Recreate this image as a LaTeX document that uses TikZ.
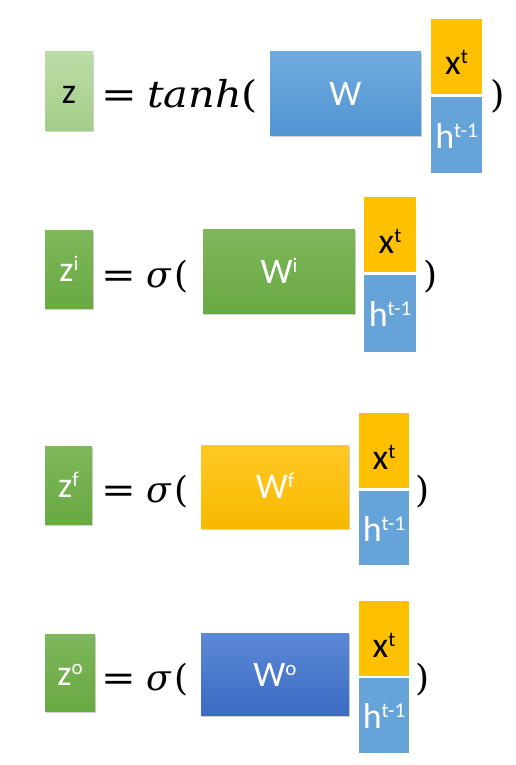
\documentclass[tikz,border=0pt]{standalone}
\usepackage{fontspec}
\newfontfamily\carl{Carlito}
\newfontfamily\mf{DejaVu Serif}
\usetikzlibrary{shadows}
\definecolor{zlightT}{HTML}{BBDDA6}
\definecolor{zlightB}{HTML}{A4CD89}
\definecolor{grT}{HTML}{7DB75A}
\definecolor{grB}{HTML}{69A942}
\definecolor{goldT}{HTML}{FFC824}
\definecolor{goldB}{HTML}{F7B900}
\definecolor{blT}{HTML}{70ABE0}
\definecolor{blB}{HTML}{5294D2}
\definecolor{boT}{HTML}{5C89D6}
\definecolor{boB}{HTML}{3B6BC3}
\definecolor{xcol}{HTML}{FFC000}
\definecolor{hcol}{HTML}{66A3D8}
\newcommand{\myup}[1]{\raisebox{11pt}{\fontsize{21}{21}\selectfont #1}}
\newcommand{\eqs}{\scalebox{1.15}[1]{=}}
\tikzset{
  box/.style={rectangle, inner sep=0pt, font=\carl\fontsize{36}{36}\selectfont},
  shad/.style={drop shadow={shadow xshift=0.6pt, shadow yshift=-2pt, opacity=0.25, fill=black!70}},
  zbox/.style={box, shad, text height=25pt, text depth=0pt},
  wbox/.style={box, shad, text height=24pt, text depth=0pt, text=white},
  xbox/.style={box, fill=xcol, text height=37pt, text depth=0pt, text=black},
  hbox/.style={box, fill=hcol, text height=26pt, text depth=0pt, text=white},
  mth/.style={inner sep=0pt, anchor=base west, font=\mf\fontsize{37}{40}\selectfont},
  mths/.style={inner sep=0pt, anchor=base west, font=\mf\fontsize{36}{40}\selectfont},
}
\begin{document}
\begin{tikzpicture}[x=1pt,y=-1pt]
\useasboundingbox[fill=white] (0,0) rectangle (515,765);
% Row 1
\node[zbox, top color=zlightT, bottom color=zlightB, minimum width=48pt, minimum height=78pt, text=black] (z1) at (69,91) {z};
\node[mth] (eq1) at (101,107) {\eqs};
\node[mth] (f1) at (147,107) {\scalebox{1.12}[1]{{\itshape tanh}(}};
\node[wbox, top color=blT, bottom color=blB, minimum width=151pt, minimum height=83pt] (w1) at (345.5,93.5) {W};
\node[xbox, minimum width=51pt, minimum height=75pt] (x1) at (456.5,56.5) {x\myup{t}};
\node[hbox, minimum width=51pt, minimum height=76pt] (h1) at (456.5,135) {h\myup{t-1}};
\node[mth] (p1) at (490,107) {)};
% Row 2
\node[zbox, top color=grT, bottom color=grB, minimum width=48pt, minimum height=78pt, text=white] (z2) at (69,269) {z\myup{i}};
\node[mths] (eq2) at (101,287) {\eqs};
\node[mths] (f2) at (146,287) {{\itshape σ}\hspace{4pt}(};
\node[wbox, top color=grT, bottom color=grB, minimum width=152pt, minimum height=84pt] (w2) at (279,271) {W\myup{i}};
\node[xbox, minimum width=52pt, minimum height=75pt] (x2) at (390,234.5) {x\myup{t}};
\node[hbox, minimum width=52pt, minimum height=77pt] (h2) at (390,313.5) {h\myup{t-1}};
\node[mths] (p2) at (423,287) {)};
% Row 3
\node[zbox, top color=grT, bottom color=grB, minimum width=47pt, minimum height=78pt, text=white] (z3) at (68.5,485) {z\myup{f}};
\node[mths] (eq3) at (101,502) {\eqs};
\node[mths] (f3) at (146,502) {{\itshape σ}\hspace{4pt}(};
\node[wbox, top color=goldT, bottom color=goldB, minimum width=148pt, minimum height=83pt] (w3) at (275,486.5) {W\myup{f}};
\node[xbox, minimum width=50pt, minimum height=75pt] (x3) at (384,450.5) {x\myup{t}};
\node[hbox, minimum width=50pt, minimum height=74pt] (h3) at (384,528) {h\myup{t-1}};
\node[mths] (p3) at (415,502) {)};
% Row 4
\node[zbox, top color=grT, bottom color=grB, minimum width=50pt, minimum height=77pt, text=white] (z4) at (70,672.5) {z\myup{o}};
\node[mths] (eq4) at (101,690) {\eqs};
\node[mths] (f4) at (146,690) {{\itshape σ}\hspace{4pt}(};
\node[wbox, top color=boT, bottom color=boB, minimum width=148pt, minimum height=82pt] (w4) at (275,674) {W\myup{o}};
\node[xbox, minimum width=50pt, minimum height=75pt] (x4) at (384,638.5) {x\myup{t}};
\node[hbox, minimum width=50pt, minimum height=75pt] (h4) at (384,715.5) {h\myup{t-1}};
\node[mths] (p4) at (415,690) {)};
\end{tikzpicture}
\end{document}
